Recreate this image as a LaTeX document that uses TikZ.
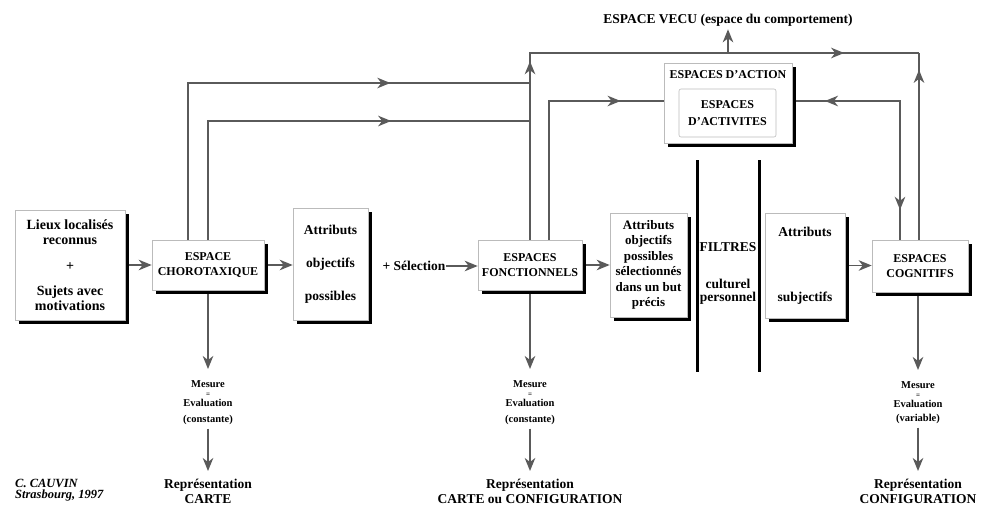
\documentclass[tikz,border=0pt]{standalone}
\usepackage{fontspec}
\setmainfont{Liberation Serif}
\usetikzlibrary{arrows.meta,shadows,decorations.markings}
\definecolor{lin}{HTML}{5A5A5A}
\definecolor{bord}{HTML}{BBBBBB}
\tikzset{
  >={Stealth[length=13pt,width=10.5pt,inset=4pt]},
  wire/.style={draw=lin, line width=1.9pt},
  conn/.style={wire, ->},
  marr/.style={postaction={decorate, decoration={markings, mark=at position #1 with {\arrow{>}}}}},
  rarr/.style={postaction={decorate, decoration={markings, mark=at position #1 with {\arrowreversed{>}}}}},
  box/.style={draw=bord, line width=0.6pt, fill=white, align=center, inner sep=0pt,
    drop shadow={shadow xshift=3.5pt, shadow yshift=-3.5pt, fill=black, opacity=1}},
  ttl/.style={font=\fontsize{12}{15}\selectfont\bfseries},
  txt/.style={font=\fontsize{13.5}{15}\selectfont\bfseries},
  free/.style={align=center, inner sep=0pt},
  meas/.style={free, font=\fontsize{10.5}{10}\selectfont\bfseries},
  rep/.style={free, font=\fontsize{13.5}{14.5}\selectfont\bfseries},
  filter/.style={draw=black, line width=3pt},
}
\begin{document}
\begin{tikzpicture}[x=1pt,y=-1pt]
\useasboundingbox (0,0) rectangle (982,509);

% boxes
\node[box, font=\fontsize{14}{15}\selectfont\bfseries, minimum width=110pt, minimum height=110pt] (lieux) at (70,265) {Lieux localisés\\reconnus\\[11pt]+\\[10pt]Sujets avec\\motivations};
\node[box, ttl, minimum width=112pt, minimum height=50pt] (choro) at (208,265) {ESPACE\\CHOROTAXIQUE};
\node[box, txt, minimum width=75pt, minimum height=112pt] (attr1) at (330.5,264) {Attributs\\[18pt]objectifs\\[18pt]possibles};
\node[free, txt] (sel) at (414,266) {+ Sélection};
\node[box, ttl, minimum width=104pt, minimum height=50pt] (fonct) at (530,265) {ESPACES\\FONCTIONNELS};
\node[box, font=\fontsize{13}{15.5}\selectfont\bfseries, minimum width=77pt, minimum height=104pt] (attr2) at (648.5,265) {Attributs\\objectifs\\possibles\\sélectionnés\\dans un but\\précis};
\node[free, font=\fontsize{13.5}{13}\selectfont\bfseries] (filt) at (728,273) {FILTRES\\[24pt]culturel\\personnel};
\node[box, txt, minimum width=80pt, minimum height=105pt] (attr3) at (805,265.5) {Attributs\\[50pt]subjectifs};
\node[box, ttl, minimum width=96pt, minimum height=52pt] (cog) at (920,266) {ESPACES\\COGNITIFS};
\node[box, minimum width=128pt, minimum height=80pt,
  label={[ttl, anchor=north, inner sep=0pt, yshift=-8pt]north:ESPACES D'ACTION}] (action) at (728,103) {};
\node[draw=bord, line width=0.6pt, rounded corners=2pt, align=center, inner sep=0pt,
  minimum width=97pt, minimum height=48pt, font=\fontsize{12}{17}\selectfont\bfseries] (activ) at (727.5,113) {ESPACES\\D'ACTIVITES};
\node[free, txt] (vecu) at (728,20) {ESPACE VECU (espace du comportement)};

% filters
\coordinate (f1t) at (697,160); \coordinate (f1b) at (697,372);
\coordinate (f2t) at (759,160); \coordinate (f2b) at (759,372);
\draw[filter] (f1t) -- (f1b);
\draw[filter] (f2t) -- (f2b);

% bottom texts
\node[meas, anchor=north] (m1) at (208,380) {Mesure\\[-1pt]{\fontsize{7}{7}\selectfont =}\\Evaluation\\[6pt](constante)};
\node[meas, anchor=north] (m2) at (530,380) {Mesure\\[-1pt]{\fontsize{7}{7}\selectfont =}\\Evaluation\\[6pt](constante)};
\node[meas, anchor=north] (m3) at (918,381) {Mesure\\[-1pt]{\fontsize{7}{7}\selectfont =}\\Evaluation\\[4pt](variable)};
\node[rep, anchor=north] (r1) at (208,479) {Représentation\\CARTE};
\node[rep, anchor=north] (r2) at (530,479) {Représentation\\CARTE ou CONFIGURATION};
\node[rep, anchor=north] (r3) at (918,479) {Représentation\\CONFIGURATION};
\node[free, anchor=north west, align=left, font=\fontsize{12.5}{11}\selectfont\bfseries\itshape] (cred) at (15,479) {C. CAUVIN\\Strasbourg, 1997};

% main chain
\draw[conn] ([xshift=3.5pt]lieux.east) -- (choro.west);
\draw[conn] ([xshift=3.5pt]choro.east) -- (choro.east -| attr1.west);
\draw[conn] (sel.east) -- (sel.east -| fonct.west);
\draw[conn] ([xshift=3.5pt]fonct.east) -- (fonct.east -| attr2.west);
\draw[conn] ([xshift=3.5pt]attr3.east) -- (attr3.east -| cog.west);

% top connectors
\coordinate (p1) at (188,83);
\coordinate (p2) at (208,121);
\coordinate (tr) at (919,53);
\coordinate (a1) at (549,101);
\coordinate (a2) at (900,101);
\coordinate (ae) at ([xshift=3.5pt]action.east);
\draw[wire, marr=0.72] (choro.north -| p1) |- (fonct.north |- p1);
\draw[wire, marr=0.685] (choro.north) |- (fonct.north |- p2);
\draw[wire, marr=0.31, marr=0.87] (fonct.north) |- (tr);
\draw[wire, marr=0.91] (tr |- cog.north) -- (tr);
\draw[conn, shorten >=3pt] (vecu.south |- tr) -- (vecu.south);
\draw[wire, marr=0.83] (fonct.north -| a1) |- (action.west |- a1);
\draw[wire, rarr=0.12, marr=0.877] (ae |- a2) -- (a2) -- (a2 |- cog.north);

% bottom connectors
\draw[conn, shorten >=11pt] ([yshift=-3.5pt]choro.south) -- (m1.north);
\draw[conn, shorten <=4pt, shorten >=8pt] (m1.south) -- (r1.north);
\draw[conn, shorten >=11pt] ([yshift=-3.5pt]fonct.south) -- (m2.north);
\draw[conn, shorten <=4pt, shorten >=8pt] (m2.south) -- (r2.north);
\coordinate (cs) at ([yshift=-3.5pt]cog.south);
\draw[conn, shorten >=11pt] (cs -| m3.north) -- (m3.north);
\draw[conn, shorten <=4pt, shorten >=8pt] (m3.south) -- (r3.north);
\end{tikzpicture}
\end{document}
